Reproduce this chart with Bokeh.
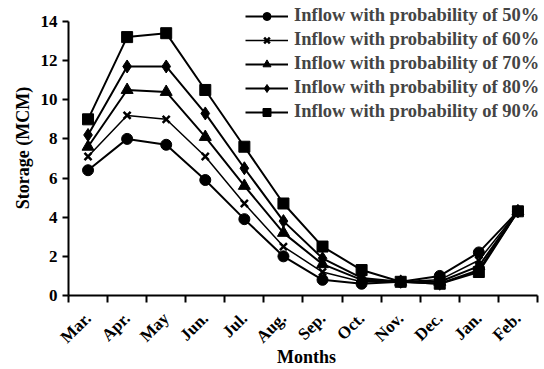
import math
from bokeh.plotting import figure
from bokeh.models import FixedTicker, Legend, LegendItem, Range1d
from bokeh.embed import file_html
from bokeh.resources import INLINE

months = ["Mar.", "Apr.", "May", "Jun.", "Jul.", "Aug.", "Sep.", "Oct.", "Nov.", "Dec.", "Jan.", "Feb."]
p50 = [6.4, 8.0, 7.7, 5.9, 3.9, 2.0, 0.8, 0.6, 0.7, 1.0, 2.2, 4.3]
p60 = [7.1, 9.2, 9.0, 7.1, 4.7, 2.5, 1.2, 0.7, 0.7, 0.8, 1.8, 4.3]
p70 = [7.6, 10.5, 10.4, 8.1, 5.6, 3.2, 1.6, 0.8, 0.7, 0.7, 1.5, 4.3]
p80 = [8.2, 11.7, 11.7, 9.3, 6.5, 3.8, 1.9, 0.9, 0.7, 0.6, 1.3, 4.3]
p90 = [9.0, 13.2, 13.4, 10.5, 7.6, 4.7, 2.5, 1.3, 0.7, 0.6, 1.2, 4.3]
series_names = ["Inflow with probability of 50%", "Inflow with probability of 60%",
                "Inflow with probability of 70%", "Inflow with probability of 80%",
                "Inflow with probability of 90%"]
y_ticks = [0, 2, 4, 6, 8, 10, 12, 14]

FONT = "Liberation Serif"

x = [i + 0.5 for i in range(len(months))]

# frame spans the canvas top/right so the legend is not clipped; axis lines limited by bounds
p = figure(width=544, height=369, output_backend="svg", toolbar_location=None,
           x_range=Range1d(0, 12.18), y_range=Range1d(0, 15.07),
           min_border_left=68, min_border_right=0, min_border_top=0, min_border_bottom=74)
p.outline_line_color = None
p.xgrid.visible = False
p.ygrid.visible = False

markers = ["circle", "x", "triangle", "diamond", "square"]
sizes = [11, 10, 12, 13, 11]
widths = [2, 1.5, 2, 2, 2]
items = []
for vals, name, mk, sz, lw in zip([p50, p60, p70, p80, p90], series_names, markers, sizes, widths):
    r1 = p.line(x, vals, line_color="black", line_width=lw)
    if mk == "x":
        r2 = p.scatter(x, vals, marker=mk, size=sz, line_color="black", line_width=2.5)
    else:
        r2 = p.scatter(x, vals, marker=mk, size=sz, fill_color="black", line_color="black")
    items.append(LegendItem(label=name, renderers=[r1, r2]))

legend = Legend(items=items, location=(177, 173), border_line_color=None,
                background_fill_alpha=0, label_text_font=FONT, label_text_font_style="bold",
                label_text_font_size="18.5px", glyph_width=43, glyph_height=20, spacing=3,
                padding=0, margin=0, label_standoff=6)
p.add_layout(legend)

# x axis: labels at category centres, ticks at boundaries
xa = p.xaxis[0]
xa.ticker = FixedTicker(ticks=x, minor_ticks=list(range(len(months) + 1)))
xa.major_label_overrides = {xv: m for xv, m in zip(x, months)}
xa.bounds = (0, len(months))
xa.major_tick_line_color = None
xa.minor_tick_line_color = "black"
xa.minor_tick_line_width = 2
xa.minor_tick_out = 7
xa.minor_tick_in = 0
xa.major_label_orientation = math.pi / 4
xa.major_label_standoff = 13
xa.axis_label_standoff = -10
xa.axis_label = "Months"

ya = p.yaxis[0]
ya.ticker = FixedTicker(ticks=y_ticks)
ya.bounds = (0, 14)
ya.minor_tick_line_color = None
ya.major_tick_out = 6
ya.major_tick_in = 0
ya.major_tick_line_width = 2
ya.axis_label = "Storage (MCM)"

for ax in (xa, ya):
    ax.axis_line_width = 2
    ax.axis_line_color = "black"
    ax.major_label_text_font = FONT
    ax.major_label_text_font_style = "bold"
    ax.major_label_text_font_size = "17px"
    ax.major_label_text_color = "black"
    ax.axis_label_text_font = FONT
    ax.axis_label_text_font_style = "bold"
    ax.axis_label_text_font_size = "18px"
    ax.axis_label_text_color = "black"

open("out.html", "w").write(file_html(p, INLINE))
